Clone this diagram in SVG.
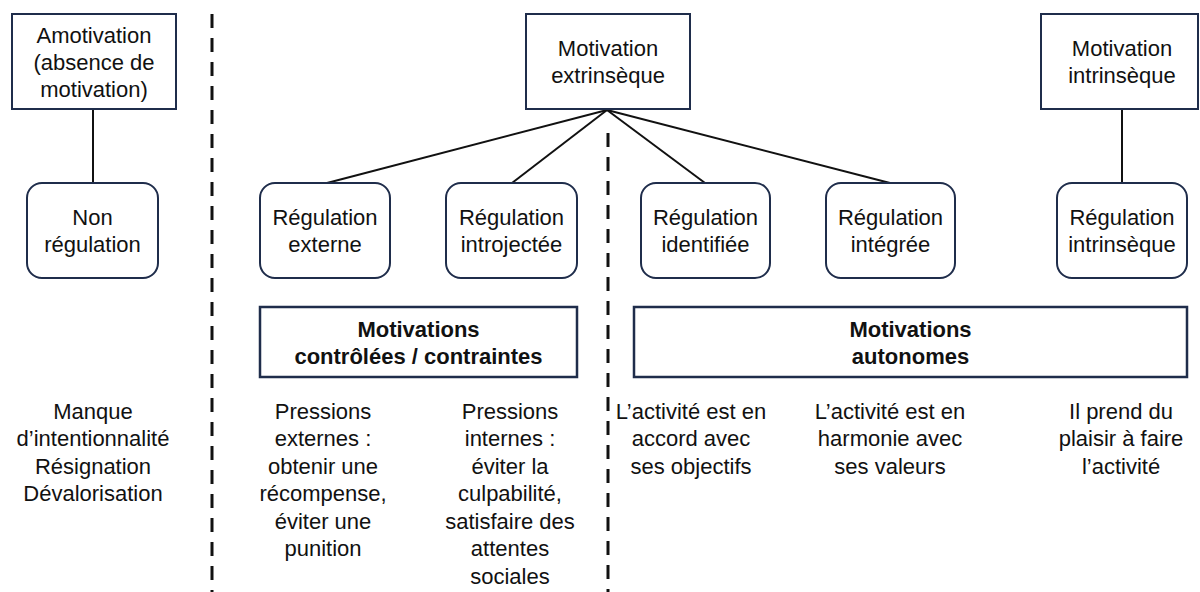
<svg xmlns="http://www.w3.org/2000/svg" width="1200" height="592" viewBox="0 0 1200 592">
<style>
.box{fill:#fff;stroke:#1f2d4b;stroke-width:2}
.tbox{fill:#fff;stroke:#1f2d4b;stroke-width:2.5}
.t{font-family:"Liberation Sans",Arial,sans-serif;font-size:22px;fill:#111;text-anchor:middle}
.b{font-weight:bold}
.c{stroke:#111;stroke-width:2;fill:none}
.d{stroke:#111;stroke-width:3;stroke-dasharray:14 10;fill:none}
</style>
<rect width="1200" height="592" fill="#fff"/>
<g id="separators">
<line class="d" x1="212" y1="14" x2="212" y2="592"/>
<line class="d" x1="608" y1="133" x2="608" y2="592"/>
</g>
<g id="connectors">
<line class="c" x1="93" y1="109" x2="93" y2="183"/>
<line class="c" x1="607" y1="110" x2="327" y2="183"/>
<line class="c" x1="607" y1="110" x2="512" y2="183"/>
<line class="c" x1="607" y1="110" x2="705" y2="183"/>
<line class="c" x1="607" y1="110" x2="890" y2="183"/>
<line class="c" x1="1122" y1="109" x2="1122" y2="183"/>
</g>
<g id="amotivation">
<rect class="box" x="12" y="14" width="164" height="95"/>
<text class="t" x="94" y="43">Amotivation</text>
<text class="t" x="94" y="70">(absence de</text>
<text class="t" x="94" y="97">motivation)</text>
</g>
<g id="extrinseque">
<rect class="box" x="526" y="14" width="164" height="95"/>
<text class="t" x="608" y="56">Motivation</text>
<text class="t" x="608" y="83">extrinsèque</text>
</g>
<g id="intrinseque">
<rect class="box" x="1041" y="14" width="157" height="95"/>
<text class="t" x="1122" y="56">Motivation</text>
<text class="t" x="1122" y="83">intrinsèque</text>
</g>
<g id="non-regulation">
<rect class="box" x="27" y="183" width="131" height="95" rx="15"/>
<text class="t" x="92.5" y="225">Non</text>
<text class="t" x="92.5" y="252">régulation</text>
</g>
<g id="reg-externe">
<rect class="box" x="260" y="183" width="130" height="95" rx="15"/>
<text class="t" x="325" y="225">Régulation</text>
<text class="t" x="325" y="252">externe</text>
</g>
<g id="reg-introjectee">
<rect class="box" x="446" y="183" width="131" height="95" rx="15"/>
<text class="t" x="511.5" y="225">Régulation</text>
<text class="t" x="511.5" y="252">introjectée</text>
</g>
<g id="reg-identifiee">
<rect class="box" x="641" y="183" width="129" height="95" rx="15"/>
<text class="t" x="705.5" y="225">Régulation</text>
<text class="t" x="705.5" y="252">identifiée</text>
</g>
<g id="reg-integree">
<rect class="box" x="826" y="183" width="129" height="95" rx="15"/>
<text class="t" x="890.5" y="225">Régulation</text>
<text class="t" x="890.5" y="252">intégrée</text>
</g>
<g id="reg-intrinseque">
<rect class="box" x="1057" y="183" width="130" height="95" rx="15"/>
<text class="t" x="1122" y="225">Régulation</text>
<text class="t" x="1122" y="252">intrinsèque</text>
</g>
<g id="controlees">
<rect class="tbox" x="260" y="307" width="317" height="70"/>
<text class="t b" x="418.5" y="337">Motivations</text>
<text class="t b" x="418.5" y="364">contrôlées / contraintes</text>
</g>
<g id="autonomes">
<rect class="tbox" x="634" y="307" width="553" height="70"/>
<text class="t b" x="910.5" y="337">Motivations</text>
<text class="t b" x="910.5" y="364">autonomes</text>
</g>
<g id="desc-amotivation">
<text class="t" x="93" y="419">Manque</text>
<text class="t" x="93" y="446">d’intentionnalité</text>
<text class="t" x="93" y="474">Résignation</text>
<text class="t" x="93" y="501">Dévalorisation</text>
</g>
<g id="desc-externe">
<text class="t" x="323" y="419">Pressions</text>
<text class="t" x="323" y="446">externes :</text>
<text class="t" x="323" y="474">obtenir une</text>
<text class="t" x="323" y="501">récompense,</text>
<text class="t" x="323" y="529">éviter une</text>
<text class="t" x="323" y="556">punition</text>
</g>
<g id="desc-introjectee">
<text class="t" x="510" y="419">Pressions</text>
<text class="t" x="510" y="446">internes :</text>
<text class="t" x="510" y="474">éviter la</text>
<text class="t" x="510" y="501">culpabilité,</text>
<text class="t" x="510" y="529">satisfaire des</text>
<text class="t" x="510" y="556">attentes</text>
<text class="t" x="510" y="584">sociales</text>
</g>
<g id="desc-identifiee">
<text class="t" x="691" y="419">L’activité est en</text>
<text class="t" x="691" y="446">accord avec</text>
<text class="t" x="691" y="474">ses objectifs</text>
</g>
<g id="desc-integree">
<text class="t" x="890" y="419">L’activité est en</text>
<text class="t" x="890" y="446">harmonie avec</text>
<text class="t" x="890" y="474">ses valeurs</text>
</g>
<g id="desc-intrinseque">
<text class="t" x="1121" y="419">Il prend du</text>
<text class="t" x="1121" y="446">plaisir à faire</text>
<text class="t" x="1121" y="474">l’activité</text>
</g>
</svg>
